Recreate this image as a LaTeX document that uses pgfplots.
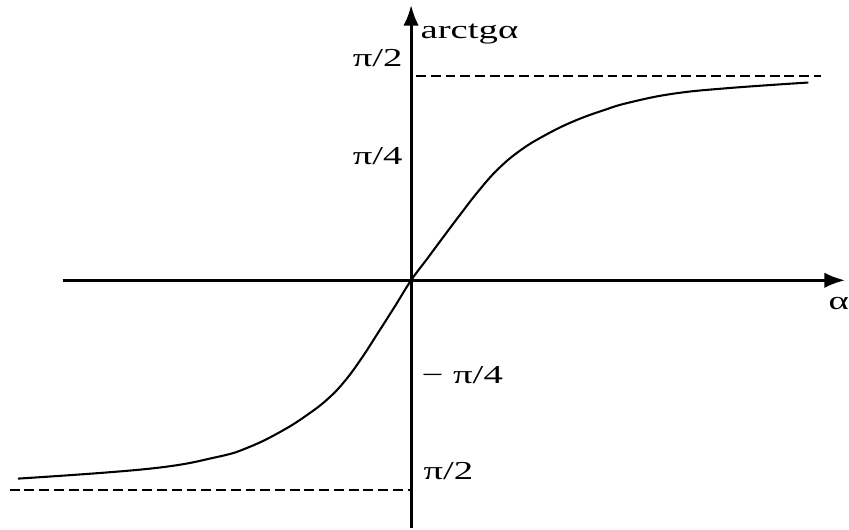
\documentclass[border=0pt]{standalone}
\usepackage{fontspec}
\setmainfont{Liberation Serif}
\usepackage{pgfplots}
\pgfplotsset{compat=1.18}
\usetikzlibrary{arrows.meta}

% arctangent curve, sketched (x in arbitrary units, y in radians)
\pgfplotstableread{
x y
-4.9375 -1.521
-3.2875 -1.445
-2.45 -1.357
-2.0375 -1.280
-1.621 -1.155
-1.2875 -1.025
-1.0375 -0.905
-0.829 -0.770
-0.621 -0.597
-0.4125 -0.400
-0.204 -0.200
0 0
0.21 0.172
0.42 0.345
0.63 0.515
0.84 0.680
1.09 0.852
1.38 1.000
1.71 1.122
2.05 1.222
2.42 1.305
2.75 1.365
3.3 1.432
4.0 1.475
4.9875 1.517
}\arctgdata

% wide lettering used for all labels
\newcommand{\lab}[1]{\scalebox{1.5}[1]{#1}}

\begin{document}
\fontsize{10}{12}\selectfont
\begin{tikzpicture}
\begin{axis}[
  scale only axis,
  width=326.9pt, height=204.4pt,
  xmin=-5.1625, xmax=5.45,
  ymin=-1.903, ymax=2.150,
  hide axis,
  clip=false,
]
\path (rel axis cs:0,0) rectangle (rel axis cs:1,1);
% axes
\draw[line width=1.15pt, -{Latex[length=8pt,width=6pt]}] (axis cs:-4.375,0) -- (axis cs:5.45,0);
\draw[line width=1.15pt, -{Latex[length=8pt,width=6pt]}] (axis cs:0,-1.903) -- (axis cs:0,2.112);
% asymptotes
\addplot[black, line width=0.7pt, dash pattern=on 3.8pt off 1.9pt] coordinates {(0.0625,1.570) (5.15,1.570)};
\addplot[black, line width=0.7pt, dash pattern=on 3.8pt off 1.9pt] coordinates {(-5.04,-1.61) (0,-1.61)};
% curve
\addplot[black, line width=0.8pt, smooth, tension=0.7] table {\arctgdata};
% labels
\node[anchor=base west, inner sep=0] at (axis cs:0.1125,1.853) {\lab{arctgα}};
\node[anchor=base east, inner sep=0] at (axis cs:-0.1,1.639) {\lab{π/2}};
\node[anchor=base east, inner sep=0] at (axis cs:-0.1,0.891) {\lab{π/4}};
\node[anchor=base west, inner sep=0] at (axis cs:0.125,-0.792) {\lab{− π/4}};
\node[anchor=base west, inner sep=0] at (axis cs:0.15,-1.529) {\lab{π/2}};
\node[anchor=base west, inner sep=0] at (axis cs:5.2375,-0.224) {\lab{α}};
\end{axis}
\end{tikzpicture}
\end{document}
